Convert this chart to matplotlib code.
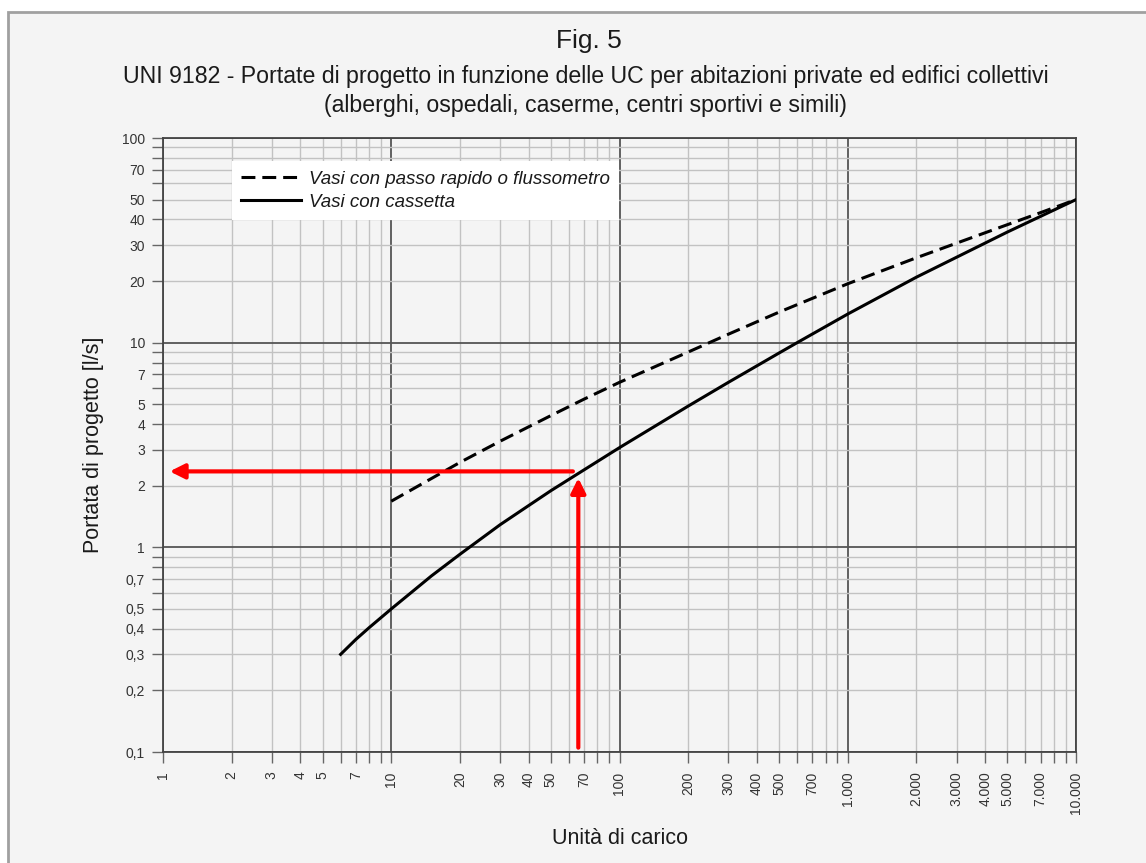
import matplotlib
matplotlib.use("Agg")
import matplotlib.pyplot as plt
import matplotlib.ticker as mticker
from matplotlib.patches import Rectangle

# Vasi con cassetta (curva continua)
uc_cassetta = [6, 7, 8, 10, 15, 20, 30, 40, 50, 67, 100, 200, 300, 500, 600, 1000, 2000, 5000, 10000]
q_cassetta = [0.30, 0.355, 0.405, 0.50, 0.725, 0.925, 1.29, 1.60, 1.89, 2.32, 3.07, 4.9, 6.4, 8.9, 10.0, 13.8, 20.9, 34.7, 50.0]

# Vasi con passo rapido o flussometro (curva tratteggiata)
uc_flusso = [10, 20, 30, 50, 70, 100, 200, 300, 500, 1000, 2000, 5000, 7000, 10000]
q_flusso = [1.68, 2.6, 3.3, 4.4, 5.3, 6.4, 9.0, 11.0, 14.1, 19.4, 26.0, 37.7, 43.2, 50.0]

# esempio di lettura (frecce rosse)
freccia_v_uc = [66, 66]
freccia_v_q = [0.105, 2.18]
freccia_h_uc = [62.5, 1.07]
freccia_h_q = [2.35, 2.35]

x_tick_vals = [1, 2, 3, 4, 5, 7, 10, 20, 30, 40, 50, 70, 100, 200, 300, 400, 500, 700,
               1000, 2000, 3000, 4000, 5000, 7000, 10000]
x_tick_txt = ["1", "2", "3", "4", "5", "7", "10", "20", "30", "40", "50", "70", "100",
              "200", "300", "400", "500", "700", "1.000", "2.000", "3.000", "4.000",
              "5.000", "7.000", "10.000"]
y_tick_vals = [0.1, 0.2, 0.3, 0.4, 0.5, 0.7, 1, 2, 3, 4, 5, 7, 10, 20, 30, 40, 50, 70, 100]
y_tick_txt = ["0,1", "0,2", "0,3", "0,4", "0,5", "0,7", "1", "2", "3", "4", "5", "7",
              "10", "20", "30", "40", "50", "70", "100"]

plt.rcParams.update({
    "font.family": "Liberation Sans",
    "lines.scale_dashes": False,
})

W, H = 1146, 863
TXT = "#1a1a1a"
fig = plt.figure(figsize=(W / 100, H / 100), dpi=100, facecolor="white")
fig.patches.append(Rectangle((8 / W, -0.02), 1.1, 1 - 12 / H + 0.02, transform=fig.transFigure,
                             facecolor="#f4f4f4", edgecolor="#a0a0a0", lw=2, zorder=-10))

ax = fig.add_axes([163 / W, 1 - 752 / H, (1076 - 163) / W, (752 - 138) / H])
ax.set_facecolor("none")
ax.set_xscale("log")
ax.set_yscale("log")
ax.set_xlim(1, 10000)
ax.set_ylim(0.1, 100)

ax.xaxis.set_major_locator(mticker.LogLocator(base=10, numticks=100))
ax.xaxis.set_minor_locator(mticker.LogLocator(base=10, subs=range(2, 10), numticks=100))
ax.yaxis.set_major_locator(mticker.LogLocator(base=10, numticks=100))
ax.yaxis.set_minor_locator(mticker.LogLocator(base=10, subs=range(2, 10), numticks=100))

xmap = {round(v, 6): t for v, t in zip(x_tick_vals, x_tick_txt)}
ymap = {round(v, 6): t for v, t in zip(y_tick_vals, y_tick_txt)}
fx = mticker.FuncFormatter(lambda v, _: xmap.get(round(v, 6), ""))
fy = mticker.FuncFormatter(lambda v, _: ymap.get(round(v, 6), ""))
ax.xaxis.set_major_formatter(fx)
ax.xaxis.set_minor_formatter(fx)
ax.yaxis.set_major_formatter(fy)
ax.yaxis.set_minor_formatter(fy)

ax.grid(which="major", color="#555555", lw=1.3)
ax.grid(which="minor", color="#c2c2c2", lw=1.0)
ax.set_axisbelow(True)

for which in ("major", "minor"):
    ax.tick_params(axis="both", which=which, direction="out", length=8, width=1,
                   color="#666666", labelsize=10, labelcolor="#333333")
ax.tick_params(axis="x", which="both", pad=6, labelrotation=90)
ax.tick_params(axis="y", which="both", pad=5)

for s in ax.spines.values():
    s.set_color("#444444")
    s.set_linewidth(1.3)

l1, = ax.plot(uc_flusso, q_flusso, color="black", lw=2.2, linestyle=(0, (10, 5)),
              label="Vasi con passo rapido o flussometro", zorder=3)
l2, = ax.plot(uc_cassetta, q_cassetta, color="black", lw=2.2,
              label="Vasi con cassetta", zorder=3)

freccia = dict(arrowstyle="-|>", color="red", lw=3, mutation_scale=22, shrinkA=0, shrinkB=0)
ax.annotate("", xy=(freccia_h_uc[1], freccia_h_q[1]), xytext=(freccia_h_uc[0], freccia_h_q[0]),
            arrowprops=freccia, zorder=4)
ax.annotate("", xy=(freccia_v_uc[1], freccia_v_q[1]), xytext=(freccia_v_uc[0], freccia_v_q[0]),
            arrowprops=freccia, zorder=4)

leg = ax.legend(handles=[l1, l2], loc="upper left", bbox_to_anchor=(0.0756, 0.962),
                borderaxespad=0, fancybox=False, framealpha=1, facecolor="white",
                edgecolor="none", handlelength=3.2, handletextpad=0.4, labelspacing=0.3,
                borderpad=0.5, prop=dict(size=13.5, style="italic"))
leg.set_zorder(5)
for t in leg.get_texts():
    t.set_color(TXT)

ax.set_xlabel("Unità di carico", fontsize=15.5, color=TXT, labelpad=10)
ax.set_ylabel("Portata di progetto [l/s]", fontsize=15.5, color=TXT, labelpad=13)

fig.text(0.514, 1 - 41 / H, "Fig. 5", ha="center", va="center", fontsize=19, color=TXT)
fig.text(0.511, 1 - 77 / H,
         "UNI 9182 - Portate di progetto in funzione delle UC per abitazioni private ed edifici collettivi",
         ha="center", va="center", fontsize=16.7, color=TXT)
fig.text(0.511, 1 - 105 / H, "(alberghi, ospedali, caserme, centri sportivi e simili)",
         ha="center", va="center", fontsize=16.7, color=TXT)

fig.savefig("out.png", dpi=100, facecolor=fig.get_facecolor())
